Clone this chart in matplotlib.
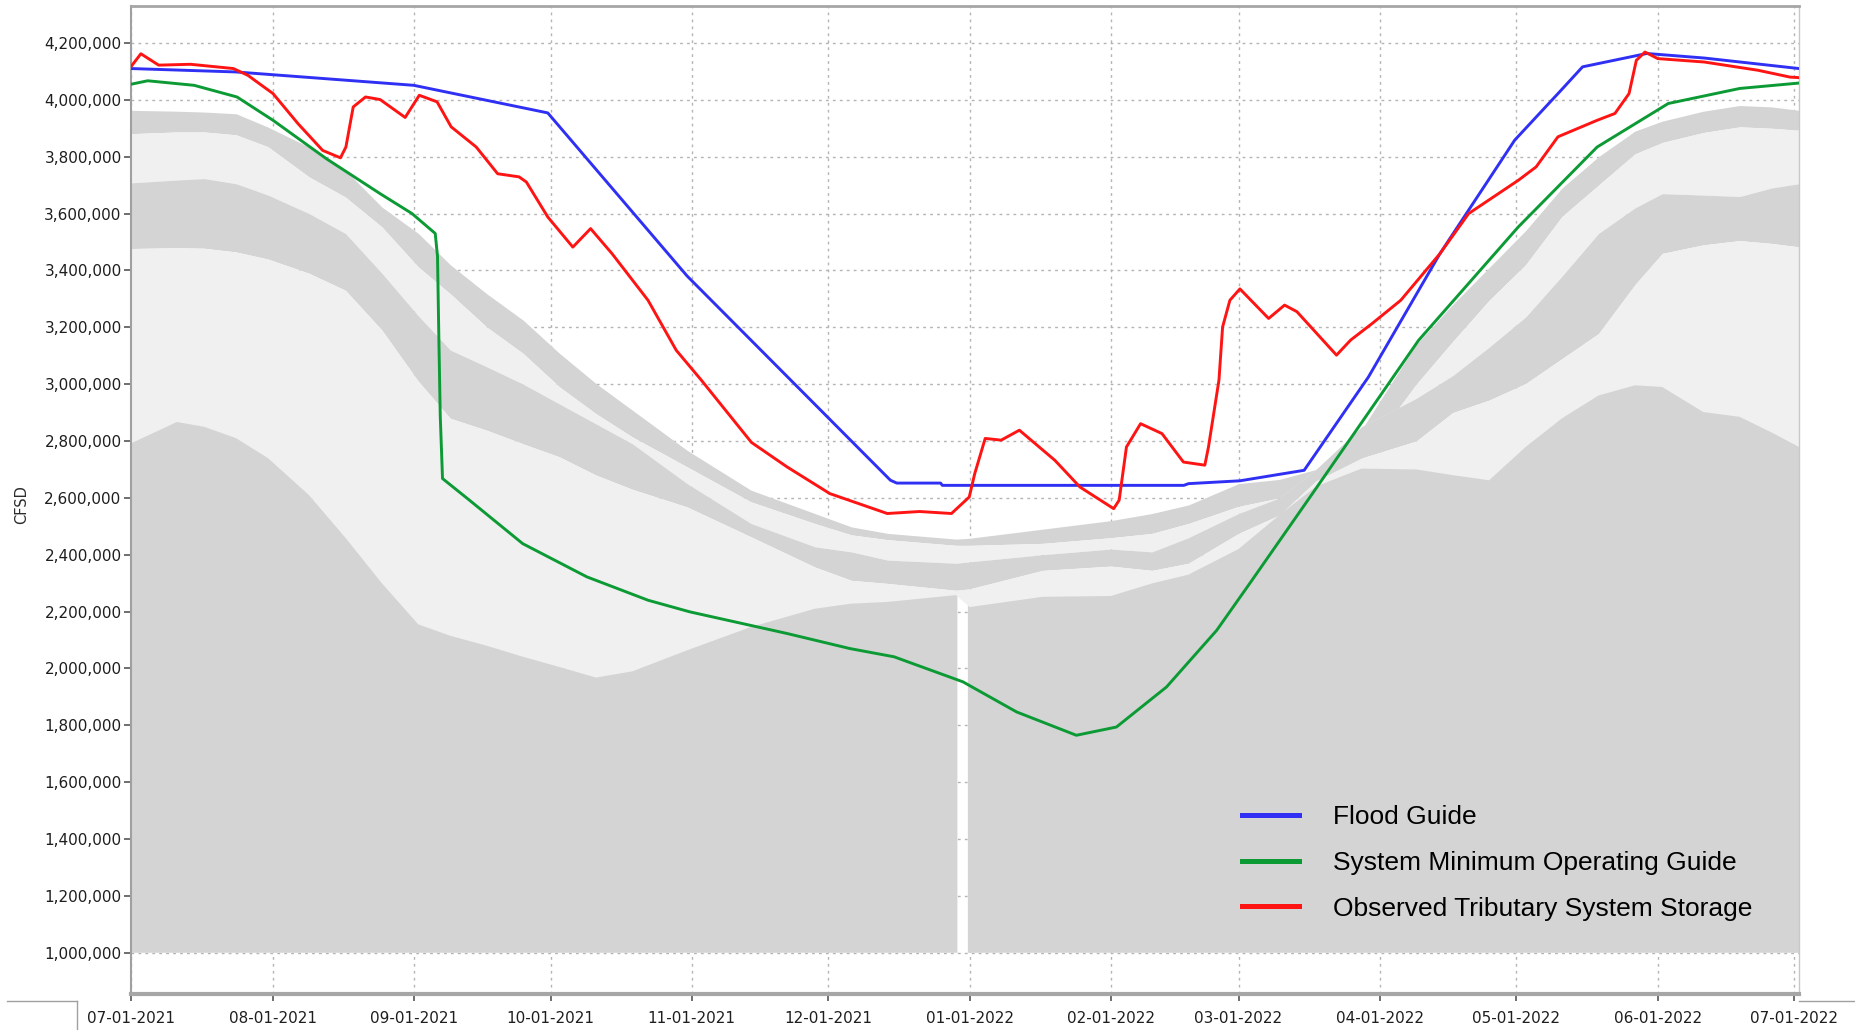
import numpy as np
import matplotlib
matplotlib.use("Agg")
import matplotlib.pyplot as plt
from matplotlib.lines import Line2D

# ---------------- data (x = days after 07-01-2021, y = CFSD) ----------------
month_days = [0, 31, 62, 92, 123, 153, 184, 215, 243, 274, 304, 335, 365]
month_labels = ["07-01-2021", "08-01-2021", "09-01-2021", "10-01-2021", "11-01-2021",
                "12-01-2021", "01-01-2022", "02-01-2022", "03-01-2022", "04-01-2022",
                "05-01-2022", "06-01-2022", "07-01-2022"]
y_ticks = list(range(1000000, 4200001, 200000))

# background percentile bands (top edge of each zone), thousands of CFSD
band_days = [0, 10, 16, 23, 30, 39, 47, 55, 63, 70, 78, 86, 94, 102, 110, 122, 136, 150,
             158, 166, 181, 184, 200, 215, 224, 232, 243, 252, 260, 270, 282, 290, 298,
             306, 314, 322, 330, 336, 345, 353, 360, 366]
band1 = [3963, 3960, 3957, 3951, 3904, 3834, 3752, 3623, 3530, 3420, 3318, 3225, 3108, 3002,
         2908, 2767, 2627, 2545, 2498, 2475, 2455, 2458, 2490, 2520, 2545, 2575, 2650, 2665,
         2700, 2840, 3140, 3280, 3410, 3540, 3690, 3800, 3890, 3925, 3960, 3980, 3975, 3963]
band2 = [3881, 3887, 3887, 3877, 3835, 3729, 3658, 3553, 3412, 3318, 3201, 3108, 2990, 2896,
         2814, 2709, 2586, 2510, 2470, 2453, 2433, 2433, 2440, 2460, 2475, 2510, 2570, 2600,
         2640, 2740, 3000, 3150, 3295, 3420, 3590, 3700, 3810, 3850, 3885, 3905, 3900, 3893]
band3 = [3708, 3718, 3723, 3705, 3665, 3600, 3530, 3390, 3240, 3120, 3061, 3000, 2930, 2860,
         2790, 2650, 2510, 2428, 2410, 2381, 2370, 2375, 2400, 2420, 2410, 2460, 2545, 2600,
         2700, 2850, 2950, 3030, 3130, 3236, 3380, 3530, 3620, 3670, 3665, 3660, 3690, 3705]
band4 = [3477, 3480, 3478, 3465, 3440, 3390, 3330, 3190, 3010, 2880, 2838, 2790, 2744, 2680,
         2630, 2568, 2463, 2357, 2310, 2299, 2275, 2280, 2345, 2360, 2345, 2370, 2475, 2540,
         2660, 2740, 2800, 2900, 2944, 3002, 3090, 3178, 3350, 3460, 3490, 3505, 3495, 3483]
band5 = [2792, 2867, 2850, 2810, 2740, 2610, 2460, 2300, 2155, 2115, 2080, 2041, 2005, 1968,
         1990, 2064, 2146, 2210, 2228, 2234, 2258, 2216, 2252, 2255, 2299, 2330, 2420, 2540,
         2640, 2703, 2700, 2680, 2662, 2779, 2880, 2960, 2996, 2990, 2902, 2885, 2830, 2779]
band_floor = 1000
missing_days = (181.3, 183.6)   # gap in the lowest band record

flood_days = [0, 23, 62, 91.4, 122, 166.6, 168, 177.6, 178, 231, 232, 243.3, 257.4, 271.5,
              287.2, 303.6, 313.8, 318.5, 332.6, 345.2, 366]
flood_vals = [4110, 4098, 4051, 3954, 3380, 2662, 2652, 2652, 2644, 2644, 2650, 2660, 2697,
              3025, 3459, 3858, 4034, 4116, 4163, 4147, 4110]

smog_days = [0, 3.6, 13.8, 23.2, 31.1, 42.8, 54.6, 61.6, 66.7, 67.2, 67.5, 67.8, 68.3, 74.2,
             85.9, 100, 113.4, 122.6, 143.9, 157.7, 167.4, 182.5, 194.3, 207.4, 216.2, 227.2,
             238.2, 245.5, 259, 282.5, 304.4, 321.7, 337.3, 353, 366]
smog_vals = [4055, 4067, 4051, 4010, 3928, 3793, 3670, 3600, 3530, 3450, 3160, 2890, 2668, 2592,
             2439, 2322, 2240, 2199, 2123, 2070, 2041, 1953, 1847, 1765, 1794, 1935, 2134, 2300,
             2610, 3154, 3553, 3834, 3987, 4040, 4059]

obs_days = [0, 2.1, 6.0, 13.0, 22.4, 25.6, 31.1, 36.6, 42.0, 45.9, 47.1, 48.7, 51.4, 54.6, 60.1,
            63.2, 67.1, 70.2, 75.7, 80.4, 85.1, 86.7, 91.4, 96.9, 100.8, 105.5, 113.4, 119.6,
            125.1, 136.1, 143.9, 153.3, 165.9, 173, 180, 183.9, 185.1, 187.4, 190.9, 194.9,
            202.7, 208.2, 215.6, 216.8, 218.4, 221.5, 226.2, 230.9, 235.6, 236.4, 238.7, 239.5,
            241.1, 243.3, 249.6, 253.1, 255.8, 264.5, 267.6, 272.3, 278.6, 287.2, 293.5, 304.4,
            308.3, 313.1, 321.7, 325.6, 328.7, 330.3, 332.2, 335, 345.2, 357, 364, 366]
obs_vals = [4118, 4162, 4122, 4125, 4110, 4086, 4022, 3916, 3822, 3796, 3834, 3975, 4010, 4001,
            3938, 4016, 3993, 3905, 3834, 3740, 3729, 3711, 3588, 3482, 3547, 3459, 3295, 3119,
            3014, 2795, 2709, 2615, 2545, 2552, 2545, 2603, 2685, 2809, 2803, 2838, 2732, 2638,
            2562, 2592, 2779, 2861, 2826, 2726, 2715, 2779, 3014, 3201, 3295, 3335, 3231, 3278,
            3255, 3102, 3155, 3213, 3295, 3459, 3600, 3717, 3764, 3870, 3928, 3952, 4022, 4139,
            4168, 4145, 4133, 4104, 4080, 4078]

series_labels = ["Flood Guide", "System Minimum Operating Guide", "Observed Tributary System Storage"]
series_colors = ["#3030f5", "#0c9a35", "#ff1414"]

# ---------------- figure ----------------
W, H = 1855, 1030
fig = plt.figure(figsize=(W / 100, H / 100), dpi=100)
L, R, T, B = 131.3, 1799, 6, 994
ax = fig.add_axes([L / W, 1 - B / H, (R - L) / W, (B - T) / H])

K = 1000.0
DARK = "#d4d4d4"
LIGHT = "#f0f0f0"
bd = np.array(band_days, float)
b1, b2, b3, b4, b5 = (np.array(b, float) * K for b in (band1, band2, band3, band4, band5))
ax.fill_between(bd, b1, b2, color=DARK, lw=0, zorder=1)
ax.fill_between(bd, b2, b3, color=LIGHT, lw=0, zorder=1)
ax.fill_between(bd, b3, b4, color=DARK, lw=0, zorder=1)
ax.fill_between(bd, b4, b5, color=LIGHT, lw=0, zorder=1)
xx = np.linspace(bd[0], bd[-1], 7321)
b5x = np.interp(xx, bd, b5)
keep = ~((xx > missing_days[0]) & (xx < missing_days[1]))
ax.fill_between(xx, band_floor * K, b5x, where=keep, color=DARK, lw=0, zorder=1)

lw = 2.1
ax.plot(flood_days, np.array(flood_vals) * K, color=series_colors[0], lw=lw, zorder=3)
ax.plot(smog_days, np.array(smog_vals) * K, color=series_colors[1], lw=lw, zorder=3)
ax.plot(obs_days, np.array(obs_vals) * K, color=series_colors[2], lw=lw, zorder=4)

ax.set_xlim(0, 366)
ax.set_ylim(855000, 4330000)
ax.set_xticks(month_days)
ax.set_xticklabels(month_labels)
ax.set_yticks(y_ticks)
ax.set_yticklabels([f"{v:,}" for v in y_ticks])
ax.set_axisbelow(True)
ax.grid(True, linestyle=(0, (2, 3)), color="#b4b4b4", linewidth=1.0)

ax.tick_params(axis="both", direction="out", length=5, width=1.2, color="#555555",
               labelsize=11, labelcolor="#1e1e1e")
ax.tick_params(axis="y", pad=2)
ax.tick_params(axis="x", pad=7)

ax.spines["bottom"].set_color("#a6a6a6"); ax.spines["bottom"].set_linewidth(3)
ax.spines["left"].set_color("#a0a0a0"); ax.spines["left"].set_linewidth(1.5)
ax.spines["top"].set_color("#a6a6a6"); ax.spines["top"].set_linewidth(2)
ax.spines["right"].set_color("#c8c8c8"); ax.spines["right"].set_linewidth(1)

fig.text(22 / W, 1 - 505 / H, "CFSD", rotation=90, ha="center", va="center",
         fontsize=10.5, color="#2a2a2a")

handles = [Line2D([], [], color=c, lw=3.6) for c in series_colors]
leg = fig.legend(handles, series_labels, loc="center left",
                 bbox_to_anchor=(1242 / W, 1 - 863 / H), frameon=False,
                 prop={"family": "Liberation Sans", "size": 19},
                 handlelength=2.16, handletextpad=1.29, labelspacing=0.82,
                 borderpad=0, borderaxespad=0)

# window-frame strokes under the chart
fig.add_artist(Line2D([7 / W, 77 / W], [1 - 1001 / H] * 2, color="#a0a0a0", lw=1))
fig.add_artist(Line2D([77 / W, 77 / W], [1 - 1001 / H, 0], color="#a0a0a0", lw=1))
fig.add_artist(Line2D([1799 / W, 1], [1 - 1001 / H] * 2, color="#a0a0a0", lw=1))

fig.savefig("out.png", dpi=100)
